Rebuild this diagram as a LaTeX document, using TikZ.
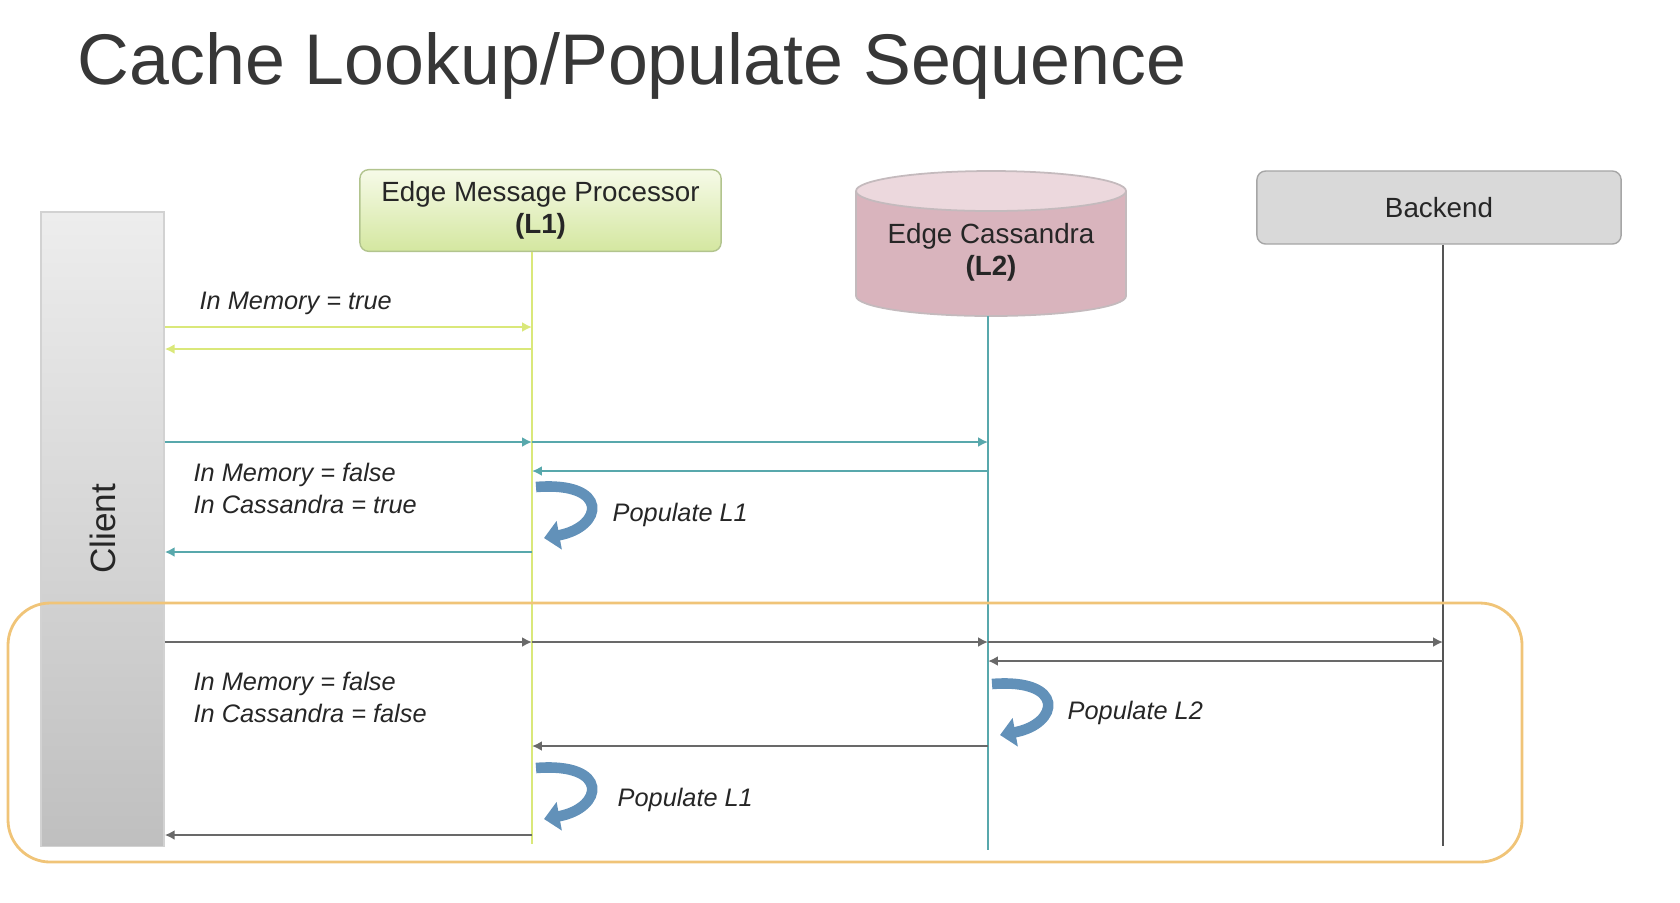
\documentclass[tikz,border=0pt]{standalone}
\usepackage{fontspec}
\setmainfont{Liberation Sans}
\usetikzlibrary{arrows.meta}
\definecolor{titlegray}{RGB}{55,55,55}
\definecolor{lgreen}{RGB}{218,232,122}
\definecolor{lteal}{RGB}{88,168,172}
\definecolor{lgray}{RGB}{105,105,105}
\definecolor{bkline}{RGB}{85,85,85}
\definecolor{curlblue}{RGB}{98,145,185}
\definecolor{orangebox}{RGB}{240,196,120}
\definecolor{greentop}{RGB}{246,250,232}
\definecolor{greenbot}{RGB}{212,231,160}
\definecolor{greenedge}{RGB}{178,196,142}
\definecolor{cassbody}{RGB}{217,180,189}
\definecolor{casstop}{RGB}{236,216,221}
\definecolor{cassedge}{RGB}{196,186,189}
\begin{document}
\begin{tikzpicture}[x=0.01cm,y=-0.01cm,
  lab/.style={font=\fontsize{7.2}{9.1}\selectfont\itshape,anchor=west,align=left,inner sep=0pt,text=black!85},
  head/.style={font=\fontsize{7.9}{9.2}\selectfont,align=center,text=black!85},
  msg/.style={line width=0.7pt,-{Latex[length=2.8pt,width=2.8pt]}},
  life/.style={line width=0.65pt},
  curl/.style={line width=3pt,curlblue,-{Triangle[length=4.4pt,width=8pt]}}]
\useasboundingbox (0,0) rectangle (1680,902);
\node[anchor=base west,inner sep=0pt,font=\fontsize{20.4}{24}\selectfont,text=titlegray] (title) at (77,84) {Cache Lookup/Populate Sequence};

\node[draw=gray!35,top color=gray!14,bottom color=gray!50,minimum width=1.23cm,minimum height=6.34cm] (client) at (102.5,529) {};
\node[rotate=90,font=\fontsize{10}{12}\selectfont,text=black!85] (clientlab) at (client) {Client};
\node[draw=greenedge,rounded corners=2.5pt,top color=greentop,bottom color=greenbot,minimum width=3.61cm,minimum height=0.71cm,head] (emp) at (540.5,210.5) {Edge Message Processor\\\textbf{(L1)}};
\path[fill=cassbody,draw=cassedge,line width=0.5pt] (856,191) -- (856,296) arc[start angle=180,end angle=0,x radius=135,y radius=20] -- (1126,191);
\draw[fill=casstop,draw=cassedge,line width=0.5pt] (991,191) ellipse[x radius=135,y radius=20];
\node[head] (cass) at (991,252.5) {Edge Cassandra\\\textbf{(L2)}};
\node[draw=gray!70,rounded corners=2.5pt,fill=gray!30,minimum width=3.64cm,minimum height=0.73cm,head] (backend) at (1439,207.5) {Backend};

\coordinate (l1) at (532,844);
\coordinate (l2top) at (988,316);
\coordinate (l2) at (988,850);
\coordinate (l3) at (1443,846);
\draw[life,lgreen] (l1 |- emp.south) -- (l1);
\draw[life,lteal] (l2top) -- (l2);
\draw[life,bkline] (l3 |- backend.south) -- (l3);

\coordinate (m1) at (0,327);
\coordinate (m2) at (0,349);
\coordinate (m3) at (0,442);
\coordinate (m4) at (0,471);
\coordinate (m5) at (0,552);
\coordinate (m6) at (0,642);
\coordinate (m7) at (0,661);
\coordinate (m8) at (0,746);
\coordinate (m9) at (0,835);

\draw[msg,lgreen] (client.east |- m1) -- (l1 |- m1);
\draw[msg,lgreen] (l1 |- m2) -- (client.east |- m2);
\draw[msg,lteal] (client.east |- m3) -- (l1 |- m3);
\draw[msg,lteal] (l1 |- m3) -- (l2 |- m3);
\draw[msg,lteal] (l2 |- m4) -- (l1 |- m4);
\draw[msg,lteal] (l1 |- m5) -- (client.east |- m5);
\draw[msg,lgray] (client.east |- m6) -- (l1 |- m6);
\draw[msg,lgray] (l1 |- m6) -- (l2 |- m6);
\draw[msg,lgray] (l2 |- m6) -- (l3 |- m6);
\draw[msg,lgray] (l3 |- m7) -- (l2 |- m7);
\draw[msg,lgray] (l2 |- m8) -- (l1 |- m8);
\draw[msg,lgray] (l1 |- m9) -- (client.east |- m9);

\coordinate (c1) at (532,513);
\coordinate (c2) at (988,710);
\coordinate (c3) at (532,794);
\draw[curl] ([shift={(4,-26)}]c1) .. controls ([shift={(78,-32)}]c1) and ([shift={(72,14)}]c1) .. ([shift={(12,25)}]c1);
\draw[curl] ([shift={(4,-26)}]c2) .. controls ([shift={(78,-32)}]c2) and ([shift={(72,14)}]c2) .. ([shift={(12,25)}]c2);
\draw[curl] ([shift={(4,-26)}]c3) .. controls ([shift={(78,-32)}]c3) and ([shift={(72,14)}]c3) .. ([shift={(12,25)}]c3);

\node[lab] (t1) at (199,303) {In Memory = true};
\node[lab] (t2) at (193,488) {In Memory = false\\In Cassandra = true};
\node[lab] (t3) at (193,697) {In Memory = false\\In Cassandra = false};
\node[lab] (pop1) at (612,515) {Populate L1};
\node[lab] (pop2) at (1067,713) {Populate L2};
\node[lab] (pop3) at (617,800) {Populate L1};

\draw[orangebox,line width=0.8pt,rounded corners=12pt] (8,603) rectangle (1522,862);
\end{tikzpicture}
\end{document}
